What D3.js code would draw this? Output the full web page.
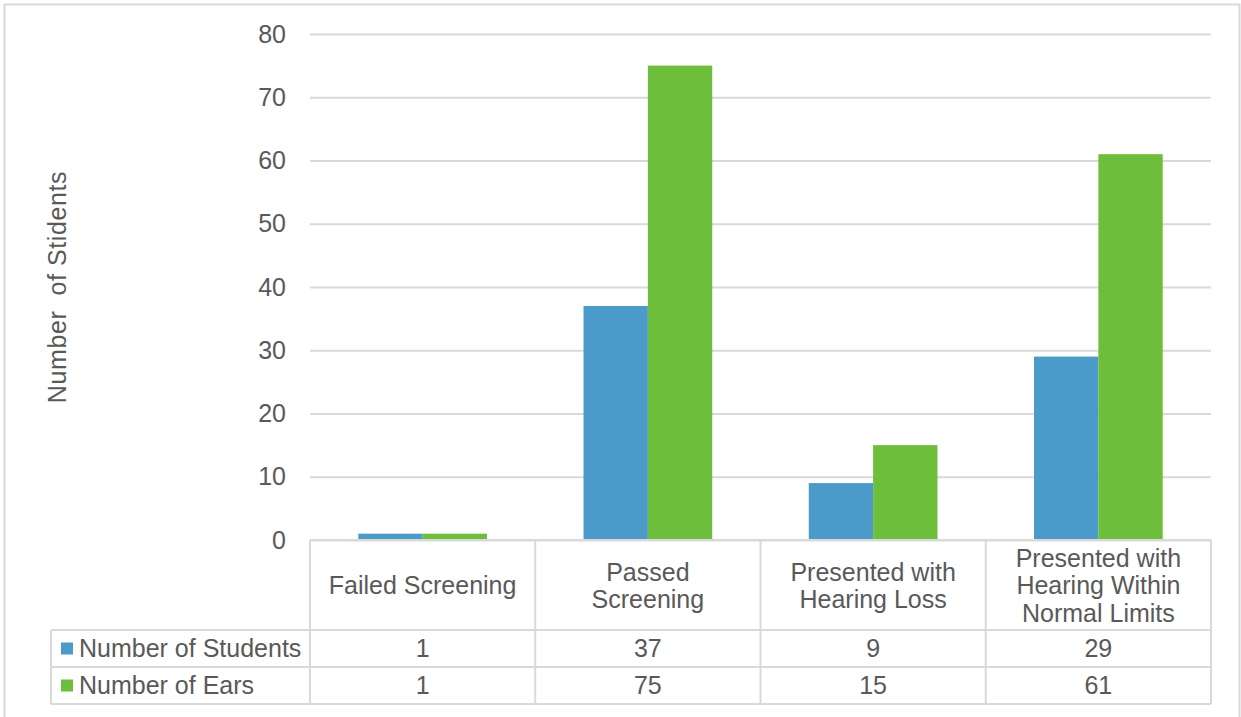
<!DOCTYPE html>
<html>
<head>
<meta charset="utf-8">
<script src="https://cdn.jsdelivr.net/npm/d3@7"></script>
<style>
  html, body { margin: 0; padding: 0; background: #ffffff; overflow: hidden; }
  svg { display: block; font-family: "Liberation Sans", Arial, sans-serif; }
</style>
</head>
<body>
<svg id="chart" width="1241" height="717"></svg>
<script>
// Screening outcomes: students and ears per category
const categories = [
  ["Failed Screening"],
  ["Passed", "Screening"],
  ["Presented with", "Hearing Loss"],
  ["Presented with", "Hearing Within", "Normal Limits"]
];
const categoryKeys = ["Failed Screening", "Passed Screening", "Presented with Hearing Loss", "Presented with Hearing Within Normal Limits"];
const seriesNames = ["Number of Students", "Number of Ears"];
const studentsValues = [1, 37, 9, 29];
const earsValues = [1, 75, 15, 61];
const yTicks = [0, 10, 20, 30, 40, 50, 60, 70, 80];
const yTitle = "Number  of Stidents";

const colors = ["#4a9bca", "#6dbe3a"];
const seriesValues = [studentsValues, earsValues];

const svg = d3.select("#chart");
const textColor = "#595959";
const lineColor = "#d9d9d9";
const fontSize = 25;

// outer chart frame (continues past the bottom edge)
svg.append("rect")
  .attr("x", 4.5).attr("y", 4.5).attr("width", 1235).attr("height", 730)
  .attr("fill", "#fff").attr("stroke", lineColor).attr("stroke-width", 2);

const plotLeft = 310, plotRight = 1211, plotTop = 34, plotBottom = 540;

const x = d3.scaleBand().domain(categoryKeys).range([plotLeft, plotRight]).paddingInner(0).paddingOuter(0);
const xs = d3.scaleBand().domain(seriesNames).range([0, x.bandwidth()]).paddingInner(0).paddingOuter(0.75);
const y = d3.scaleLinear().domain([0, 80]).range([plotBottom, plotTop]);

// gridlines and value labels
const yAxis = d3.axisLeft(y).tickValues(yTicks).tickSize(-(plotRight - plotLeft)).tickPadding(24).tickFormat(d3.format("d"));
const gy = svg.append("g").attr("transform", `translate(${plotLeft},0)`).call(yAxis);
gy.select(".domain").remove();
gy.selectAll(".tick line").attr("stroke", lineColor).attr("stroke-width", 2);
gy.selectAll(".tick text").attr("fill", textColor).attr("font-size", fontSize)
  .attr("font-family", "Liberation Sans, Arial, sans-serif");

// axis title
svg.append("text")
  .attr("transform", `translate(66,287) rotate(-90)`)
  .attr("text-anchor", "middle")
  .attr("fill", textColor).attr("font-size", fontSize)
  .attr("letter-spacing", 0.6)
  .style("white-space", "pre")
  .text(yTitle);

// bars
const rows = categoryKeys.map((c, i) => ({ cat: c, vals: seriesNames.map((s, j) => ({ s, v: seriesValues[j][i], j })) }));
const groups = svg.append("g").selectAll("g").data(rows).join("g")
  .attr("transform", d => `translate(${x(d.cat)},0)`);
groups.selectAll("rect").data(d => d.vals).join("rect")
  .attr("x", d => xs(d.s))
  .attr("y", d => y(d.v))
  .attr("width", xs.bandwidth())
  .attr("height", d => y(0) - y(d.v))
  .attr("fill", d => colors[d.j]);

// data table beneath the plot
const headerTop = 540, headerBottom = 630, rowH = 37;
const tableLeft = 51;
const tg = svg.append("g");
const ln = (x1, y1, x2, y2) => tg.append("line").attr("x1", x1).attr("y1", y1).attr("x2", x2).attr("y2", y2)
  .attr("stroke", lineColor).attr("stroke-width", 2);

// horizontal rules
ln(plotLeft, headerTop, plotRight, headerTop);
ln(tableLeft, headerBottom, plotRight, headerBottom);
ln(tableLeft, headerBottom + rowH, plotRight, headerBottom + rowH);
ln(tableLeft, headerBottom + 2 * rowH, plotRight, headerBottom + 2 * rowH);
// vertical rules
ln(tableLeft, headerBottom, tableLeft, headerBottom + 2 * rowH);
categoryKeys.forEach(c => ln(x(c), headerTop, x(c), headerBottom + 2 * rowH));
ln(plotRight, headerTop, plotRight, headerBottom + 2 * rowH);

// category headers
const lineH = 27.5;
categories.forEach((lines, i) => {
  const cx = x(categoryKeys[i]) + x.bandwidth() / 2;
  const cy = (headerTop + headerBottom) / 2 + 0.5;
  const t = tg.append("text").attr("text-anchor", "middle").attr("fill", textColor).attr("font-size", fontSize);
  lines.forEach((l, k) => {
    t.append("tspan").attr("x", cx)
      .attr("y", cy + (k - (lines.length - 1) / 2) * lineH)
      .attr("dy", "0.35em").text(l);
  });
});

// series rows with legend keys
seriesNames.forEach((s, j) => {
  const cy = headerBottom + rowH * j + rowH / 2;
  tg.append("rect").attr("x", 61).attr("y", cy - 6).attr("width", 12).attr("height", 12).attr("fill", colors[j]);
  tg.append("text").attr("x", 79).attr("y", cy).attr("dy", "0.35em")
    .attr("fill", textColor).attr("font-size", fontSize).text(s);
  seriesValues[j].forEach((v, i) => {
    tg.append("text").attr("x", x(categoryKeys[i]) + x.bandwidth() / 2).attr("y", cy).attr("dy", "0.35em")
      .attr("text-anchor", "middle").attr("fill", textColor).attr("font-size", fontSize).text(v);
  });
});
</script>
</body>
</html>
